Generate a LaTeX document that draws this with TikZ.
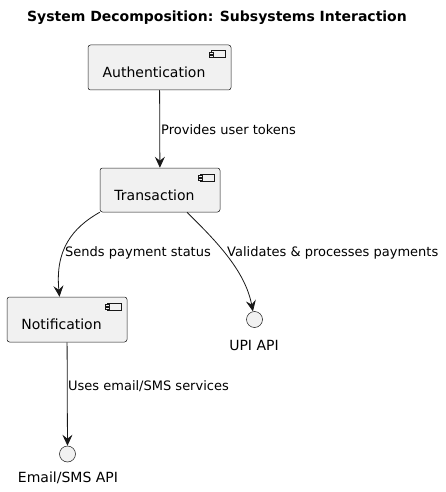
\documentclass[tikz,border=0pt]{standalone}
\usepackage{fontspec}
\setmainfont{DejaVu Sans}
\usetikzlibrary{positioning,arrows.meta,calc}
\definecolor{boxfill}{HTML}{F1F1F1}
\definecolor{lineclr}{HTML}{181818}
\tikzset{
	>={Stealth[length=11pt,width=10pt,inset=4pt]},
	dedge/.style={->, draw=lineclr, line width=0.8pt},
	compbox/.style={rectangle, draw=lineclr, fill=boxfill, line width=0.5pt,
		rounded corners=2.5pt, minimum height=45pt,
		font=\fontsize{14}{16}\selectfont, text height=20pt, text depth=0pt,
		execute at end node={\hspace*{11pt}}},
	iface/.style={circle, draw=lineclr, fill=boxfill, line width=0.5pt,
		minimum size=16pt, inner sep=0pt},
	elabel/.style={font=\fontsize{13}{15}\selectfont, inner sep=0pt, anchor=west},
	ilabel/.style={font=\fontsize{14}{16}\selectfont, inner sep=0pt},
}
\newcommand{\compicon}[1]{%
	\draw[lineclr, line width=0.5pt, fill=boxfill]
		($(#1.north east)+(-20,6)$) rectangle ++(14,7);
	\draw[lineclr, line width=0.5pt, fill=boxfill]
		($(#1.north east)+(-22,7.5)$) rectangle ++(4,1.6);
	\draw[lineclr, line width=0.5pt, fill=boxfill]
		($(#1.north east)+(-22,10.5)$) rectangle ++(4,1.6);
}

\begin{document}
\begin{tikzpicture}[x=1pt, y=-1pt]
	\useasboundingbox (0,0) rectangle (445,492);
	
	\node[font=\bfseries\fontsize{14}{16}\selectfont] (title) at (217,18)
		{System Decomposition: Subsystems Interaction};
	
	\node[compbox, minimum width=143pt] (auth) at (159.5,67.5) {Authentication};
	\node[compbox, minimum width=120pt, minimum height=44pt] (trans) at (160,190) {Transaction};
	\node[compbox, minimum width=120pt] (notif) at (67,319.5) {Notification};
	\foreach \c in {auth,trans,notif}
	\compicon{\c};
	
	\node[iface] (upi) at (254.5,319.5) {};
	\node[ilabel] (upilbl) at (254,345) {UPI API};
	\node[iface] (email) at (67.5,454) {};
	\node[ilabel] (emaillbl) at (68,478) {Email/SMS API};
	
	\draw[dedge] (auth) -- (trans);
	\node[elabel] (tokens) at (161,130) {Provides user tokens};
	
	\draw[dedge] (trans.south west) .. controls (72,228) and (55,250) .. ($(notif.north)+(-7.5,0)$);
	\node[elabel] (status) at (65,253) {Sends payment status};
	
	\draw[dedge] ($(trans.south)+(27,0)$) .. controls (215,240) and (245,270) .. (upi);
	\node[elabel] (pay) at (227,253) {Validates \& processes payments};
	
	\draw[dedge] (notif) -- (email);
	\node[elabel] (sms) at (68,386) {Uses email/SMS services};
\end{tikzpicture}
\end{document}
